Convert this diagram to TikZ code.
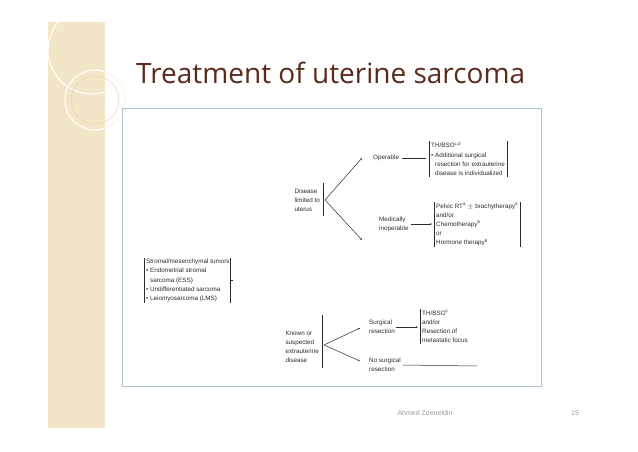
\documentclass[tikz,border=0pt]{standalone}
\usepackage{fontspec}
\setmainfont{Liberation Sans}
\newfontfamily\titlefont{Open Sans}
\usetikzlibrary{arrows.meta, positioning, calc}
\definecolor{slidebeige}{HTML}{F3E6C8}
\definecolor{titlebrown}{HTML}{5A2A1A}
\definecolor{framebl}{HTML}{A9C4D0}
\definecolor{footgray}{HTML}{9A9A9A}
\definecolor{inkgray}{HTML}{2C2C2C}

\begin{document}
\begin{tikzpicture}[x=1pt, y=-1pt,
    lbl/.style={inner sep=1pt, align=left, font=\fontsize{6.3}{9.2}\selectfont, text=inkgray},
    bar/.style={draw=inkgray, line width=0.6pt},
    link/.style={draw=inkgray, line width=0.5pt, -{Stealth[length=2.2pt]}}
]
\useasboundingbox (0,0) rectangle (638,451);

% Slide background
\fill[white] (0,0) rectangle (638,451);
\fill[slidebeige] (48,22) rectangle (105,428);
\draw[white, line width=1pt] (92,50) circle (44);
\draw[white!70!slidebeige, line width=1.5pt] (95,100) circle (30);
\draw[slidebeige!80!brown, line width=0.5pt] (95,100) circle (24);

% Title and frame
\node[anchor=west, inner sep=0pt, text=titlebrown, font=\titlefont\fontsize{28}{30}\selectfont] (title) at (136,73) {Treatment of uterine sarcoma};
\draw[framebl, line width=0.8pt] (122,108) rectangle (541,386);

% Left box
\node[lbl, anchor=north west] (tumor) at (145,258) {Stromal/mesenchymal tumors\\\textbullet\ Endometrial stromal\\\phantom{\textbullet\ }sarcoma (ESS)\\\textbullet\ Undifferentiated sarcoma\\\textbullet\ Leiomyosarcoma (LMS)};
\draw[bar] ([xshift=-1pt]tumor.north west) -- ([xshift=-1pt]tumor.south west);
\draw[bar] (tumor.north east) -- (tumor.south east);
\coordinate (tumortip) at ([xshift=2pt]tumor.east);
\draw[bar] (tumor.east) -- (tumortip);

% Disease limited to uterus
\node[lbl, anchor=east] (limited) at (321,200) {Disease\\limited to\\uterus};
\draw[bar] ($(limited.east)+(2,-17)$) -- ($(limited.east)+(2,16)$);
\coordinate (limsplit) at ($(limited.east)+(4,0)$);
\node[lbl, anchor=west] (oper) at (372,158) {Operable};
\node[lbl, anchor=west] (inoper) at (378,224) {Medically\\inoperable};
\draw[link] (limsplit) -- ($(oper.west)+(-10,0)$);
\draw[link] (limsplit) -- ($(oper.west)+(-10,82)$);

\node[lbl, anchor=north west] (operrx) at (430,141) {TH/BSO\textsuperscript{c,d}\\\textbullet\ Additional surgical\\\phantom{\textbullet\ }resection for extrauterine\\\phantom{\textbullet\ }disease is individualized};
\draw[bar] ([xshift=-1pt]operrx.north west) -- ([xshift=-1pt]operrx.south west);
\draw[bar] ([xshift=1pt]operrx.north east) -- ([xshift=1pt]operrx.south east);
\draw[bar, line width=0.5pt] ([xshift=2pt]oper.east) -- ([xshift=-4pt]operrx.west |- oper.east);

\node[lbl, anchor=north west] (inoperrx) at (435,202) {Pelvic RT\textsuperscript{a} $\pm$ brachytherapy\textsuperscript{a}\\and/or\\Chemotherapy\textsuperscript{b}\\or\\Hormone therapy\textsuperscript{b}};
\draw[bar] ([xshift=-1pt]inoperrx.north west) -- ([xshift=-1pt]inoperrx.south west);
\draw[bar] ([xshift=1pt]inoperrx.north east) -- ([xshift=1pt]inoperrx.south east);
\draw[link] ([xshift=1pt]inoper.east) -- ([xshift=-3pt]inoperrx.west |- inoper.east);

% Known or suspected extrauterine disease
\node[lbl, anchor=east] (extra) at (320,347) {Known or\\suspected\\extrauterine\\disease};
\draw[bar] ($(extra.east)+(2,-32)$) -- ($(extra.east)+(2,21)$);
\coordinate (extsplit) at ($(extra.east)+(4,-2)$);
\node[lbl, anchor=west] (surg) at (368,327) {Surgical\\resection};
\node[lbl, anchor=west] (nosurg) at (368,365) {No surgical\\resection};
\draw[link] (extsplit) -- ($(surg.west)+(-8,1)$);
\draw[link] (extsplit) -- ($(nosurg.west)+(-8,-4)$);

\node[lbl, anchor=north west] (surgrx) at (421,309) {TH/BSO\textsuperscript{c}\\and/or\\Resection of\\metastatic focus};
\draw[bar] ([xshift=-1pt]surgrx.north west) -- ([xshift=-1pt]surgrx.south west);
\draw[link] (surg.east) -- ([xshift=-3pt]surgrx.west |- surg.east);
\coordinate (nosurgend) at (477,366);
\draw[bar, line width=0.5pt] ([xshift=1pt]nosurg.east) -- (nosurgend);

% Footer
\node[text=footgray, font=\fontsize{7}{8}\selectfont] (author) at (425,413) {Ahmed Zeeneldin};
\node[text=footgray, font=\fontsize{7}{8}\selectfont] (page) at (575,413) {15};
\end{tikzpicture}
\end{document}
